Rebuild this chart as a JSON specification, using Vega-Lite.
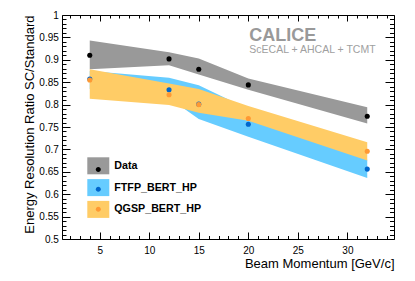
{
  "$schema": "https://vega.github.io/schema/vega-lite/v6.json",
  "width": 332,
  "height": 224,
  "autosize": "none",
  "padding": {"left": 62, "top": 15, "right": 21, "bottom": 42},
  "config": {
    "view": {"stroke": "black", "strokeWidth": 1},
    "font": "Liberation Sans",
    "axis": {
      "grid": false,
      "domain": false,
      "labelFont": "Liberation Sans",
      "titleFont": "Liberation Sans",
      "labelColor": "black",
      "titleColor": "black",
      "tickColor": "black",
      "tickWidth": 1,
      "titleFontWeight": "normal",
      "labelFontSize": 10,
      "titleFontSize": 13,
      "labelOverlap": false
    }
  },
  "data": {
    "values": [
      {"series": "Data", "p": 4, "y": 0.910, "lo": 0.879, "hi": 0.943},
      {"series": "Data", "p": 12, "y": 0.902, "lo": 0.888, "hi": 0.917},
      {"series": "Data", "p": 15, "y": 0.879, "lo": 0.867, "hi": 0.903},
      {"series": "Data", "p": 20, "y": 0.844, "lo": 0.833, "hi": 0.858},
      {"series": "Data", "p": 32, "y": 0.774, "lo": 0.758, "hi": 0.794},
      {"series": "FTFP_BERT_HP", "p": 4, "y": 0.857, "lo": 0.835, "hi": 0.875},
      {"series": "FTFP_BERT_HP", "p": 12, "y": 0.833, "lo": 0.815, "hi": 0.860},
      {"series": "FTFP_BERT_HP", "p": 15, "y": 0.801, "lo": 0.768, "hi": 0.843},
      {"series": "FTFP_BERT_HP", "p": 20, "y": 0.756, "lo": 0.728, "hi": 0.790},
      {"series": "FTFP_BERT_HP", "p": 32, "y": 0.656, "lo": 0.636, "hi": 0.677},
      {"series": "QGSP_BERT_HP", "p": 4, "y": 0.855, "lo": 0.813, "hi": 0.879},
      {"series": "QGSP_BERT_HP", "p": 12, "y": 0.822, "lo": 0.799, "hi": 0.847},
      {"series": "QGSP_BERT_HP", "p": 15, "y": 0.800, "lo": 0.782, "hi": 0.835},
      {"series": "QGSP_BERT_HP", "p": 20, "y": 0.769, "lo": 0.764, "hi": 0.797},
      {"series": "QGSP_BERT_HP", "p": 32, "y": 0.696, "lo": 0.675, "hi": 0.716}
    ]
  },
  "layer": [
    {
      "transform": [{"filter": "datum.series === 'Data'"}],
      "mark": {"type": "area", "opacity": 1},
      "encoding": {
        "x": {"field": "p", "type": "quantitative", "scale": {"domain": [1.2, 34.7], "nice": false, "zero": false},
          "axis": {"orient": "bottom", "values": [5, 10, 15, 20, 25, 30], "tickSize": -7, "labelPadding": 13,
            "title": "Beam Momentum [GeV/c]", "titleX": 332, "titleY": 28.8, "titleAlign": "right", "titleBaseline": "alphabetic", "titleAngle": 0}},
        "y": {"field": "hi", "type": "quantitative", "scale": {"domain": [0.5, 1], "nice": false, "zero": false},
          "axis": {"orient": "left", "values": [0.5, 0.55, 0.6, 0.65, 0.7, 0.75, 0.8, 0.85, 0.9, 0.95, 1], "format": "~g", "tickSize": -8, "labelPadding": 11.7,
            "title": "Energy Resolution Ratio SC/Standard", "titleX": -28.7, "titleY": 0, "titleAngle": -90, "titleAlign": "right", "titleBaseline": "alphabetic"}},
        "y2": {"field": "lo"},
        "fill": {"field": "series", "type": "nominal", "scale": {"range": ["#999999", "#66ccff", "#ffcc66"]},
          "legend": {"orient": "none", "legendX": 25.3, "legendY": 139.8, "title": null, "padding": 0,
            "symbolType": "M-1,-0.773L1,-0.773L1,0.773L-1,0.773Z", "symbolSize": 484, "symbolStrokeWidth": 0, "symbolOpacity": 1,
            "labelFont": "Liberation Sans", "labelFontWeight": "bold", "labelFontSize": 10.7, "labelOffset": 5, "rowPadding": 1.8, "labelColor": "black"}}
      }
    },
    {
      "transform": [{"filter": "datum.series === 'FTFP_BERT_HP'"}],
      "mark": {"type": "area", "opacity": 1},
      "encoding": {
        "x": {"field": "p", "type": "quantitative",
          "axis": {"orient": "bottom", "values": [2,3,4,6,7,8,9,11,12,13,14,16,17,18,19,21,22,23,24,26,27,28,29,31,32,33,34], "tickSize": -3.5, "labels": false, "title": null}},
        "y": {"field": "hi", "type": "quantitative",
          "axis": {"orient": "left", "values": [0.51,0.52,0.53,0.54,0.56,0.57,0.58,0.59,0.61,0.62,0.63,0.64,0.66,0.67,0.68,0.69,0.71,0.72,0.73,0.74,0.76,0.77,0.78,0.79,0.81,0.82,0.83,0.84,0.86,0.87,0.88,0.89,0.91,0.92,0.93,0.94,0.96,0.97,0.98,0.99], "tickSize": -4, "labels": false, "title": null}},
        "y2": {"field": "lo"},
        "fill": {"field": "series", "type": "nominal", "scale": {"range": ["#999999", "#66ccff", "#ffcc66"]},
          "legend": {"orient": "none", "legendX": 25.3, "legendY": 139.8, "title": null, "padding": 0,
            "symbolType": "M-1,-0.773L1,-0.773L1,0.773L-1,0.773Z", "symbolSize": 484, "symbolStrokeWidth": 0, "symbolOpacity": 1,
            "labelFont": "Liberation Sans", "labelFontWeight": "bold", "labelFontSize": 10.7, "labelOffset": 5, "rowPadding": 1.8, "labelColor": "black"}}
      }
    },
    {
      "transform": [{"filter": "datum.series === 'QGSP_BERT_HP'"}],
      "mark": {"type": "area", "opacity": 1},
      "encoding": {
        "x": {"field": "p", "type": "quantitative",
          "axis": {"orient": "top", "values": [5, 10, 15, 20, 25, 30], "tickSize": -6, "labels": false, "title": null}},
        "y": {"field": "hi", "type": "quantitative",
          "axis": {"orient": "right", "values": [0.5, 0.55, 0.6, 0.65, 0.7, 0.75, 0.8, 0.85, 0.9, 0.95, 1], "tickSize": -9, "labels": false, "title": null}},
        "y2": {"field": "lo"},
        "fill": {"field": "series", "type": "nominal", "scale": {"range": ["#999999", "#66ccff", "#ffcc66"]},
          "legend": {"orient": "none", "legendX": 25.3, "legendY": 139.8, "title": null, "padding": 0,
            "symbolType": "M-1,-0.773L1,-0.773L1,0.773L-1,0.773Z", "symbolSize": 484, "symbolStrokeWidth": 0, "symbolOpacity": 1,
            "labelFont": "Liberation Sans", "labelFontWeight": "bold", "labelFontSize": 10.7, "labelOffset": 5, "rowPadding": 1.8, "labelColor": "black"}}
      }
    },
    {
      "mark": {"type": "circle", "size": 26, "opacity": 1},
      "encoding": {
        "x": {"field": "p", "type": "quantitative",
          "axis": {"orient": "top", "values": [2,3,4,6,7,8,9,11,12,13,14,16,17,18,19,21,22,23,24,26,27,28,29,31,32,33,34], "tickSize": -3, "labels": false, "title": null}},
        "y": {"field": "y", "type": "quantitative",
          "axis": {"orient": "right", "values": [0.51,0.52,0.53,0.54,0.56,0.57,0.58,0.59,0.61,0.62,0.63,0.64,0.66,0.67,0.68,0.69,0.71,0.72,0.73,0.74,0.76,0.77,0.78,0.79,0.81,0.82,0.83,0.84,0.86,0.87,0.88,0.89,0.91,0.92,0.93,0.94,0.96,0.97,0.98,0.99], "tickSize": -4.5, "labels": false, "title": null}},
        "color": {"field": "series", "type": "nominal",
          "scale": {"domain": ["Data", "FTFP_BERT_HP", "QGSP_BERT_HP"], "range": ["#000000", "#0066cc", "#ff9933"]},
          "legend": {"orient": "none", "legendX": 25.3, "legendY": 139.8, "title": null, "padding": 0, "zindex": 2,
            "symbolType": "M0.227,0.34A0.227,0.227,0,1,1,-0.227,0.34A0.227,0.227,0,1,1,0.227,0.34Z", "symbolSize": 484, "symbolStrokeWidth": 0, "symbolOpacity": 1,
            "labelFont": "Liberation Sans", "labelFontWeight": "bold", "labelFontSize": 10.7, "labelOffset": 5, "rowPadding": 1.8, "labelOpacity": 0}}
      }
    },
    {
      "data": {"values": [{"label": "CALICE"}]},
      "mark": {"type": "text", "align": "left", "baseline": "alphabetic", "font": "Liberation Sans", "fontSize": 18, "fontWeight": "bold", "color": "#999999"},
      "encoding": {
        "text": {"field": "label"},
        "x": {"datum": 20.1, "type": "quantitative", "axis": null},
        "y": {"datum": 0.9426, "type": "quantitative", "axis": null}
      }
    },
    {
      "data": {"values": [{"label": "ScECAL + AHCAL + TCMT"}]},
      "mark": {"type": "text", "align": "left", "baseline": "alphabetic", "font": "Liberation Sans", "fontSize": 10.5, "color": "#a0a0a0"},
      "encoding": {
        "text": {"field": "label"},
        "x": {"datum": 20.1, "type": "quantitative", "axis": null},
        "y": {"datum": 0.9147, "type": "quantitative", "axis": null}
      }
    }
  ],
  "resolve": {"axis": {"x": "independent", "y": "independent"}}
}
